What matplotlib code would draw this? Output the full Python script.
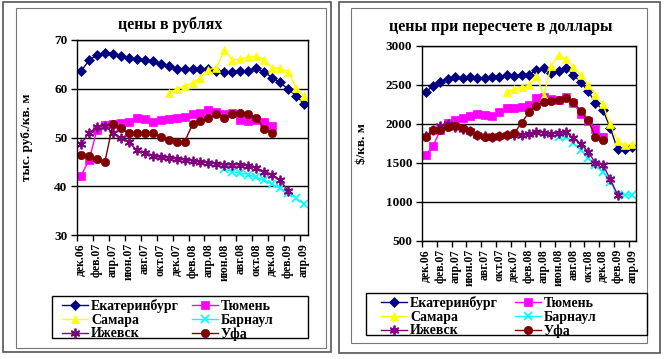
import numpy as np
import matplotlib
matplotlib.use('Agg')
import matplotlib.pyplot as plt
from matplotlib.patches import Rectangle

plt.rcParams['font.family'] = ['Liberation Serif', 'DejaVu Serif']
plt.rcParams['font.weight'] = 'bold'

N = None
# месяцы дек.06 - апр.09
months = ['дек.06', 'янв.07', 'фев.07', 'мар.07', 'апр.07', 'май.07', 'июн.07',
          'июл.07', 'авг.07', 'сен.07', 'окт.07', 'ноя.07', 'дек.07', 'янв.08',
          'фев.08', 'мар.08', 'апр.08', 'май.08', 'июн.08', 'июл.08', 'авг.08',
          'сен.08', 'окт.08', 'ноя.08', 'дек.08', 'янв.09', 'фев.09', 'мар.09',
          'апр.09']
cities = ['Екатеринбург', 'Тюмень', 'Самара', 'Барнаул', 'Ижевск', 'Уфа']

# цены в рублях, тыс. руб./кв. м
ekb_rub = [63.6, 65.8, 67.0, 67.4, 67.2, 66.7, 66.3, 66.1, 65.9, 65.6, 65.0, 64.7, 64.1, 64.1,
           64.1, 64.1, 64.0, 63.7, 63.5, 63.5, 63.7, 63.7, 64.2, 63.4, 62.3, 61.3, 59.9, 58.6, 56.9]
tmn_rub = [42.2, 45.3, 51.5, 52.5, 52.7, 53.0, 53.2, 53.9, 53.8, 53.1, 53.6, 53.8, 54.1, 54.3,
           54.8, 55.1, 55.6, 55.2, 54.9, 55.1, 53.6, 53.4, 53.6, 53.1, 52.4, N, N, N, N]
sam_rub = [N, N, N, N, N, N, N, N, N, N, N, 59.2, 59.9, 60.6,
           61.2, 62.3, 63.9, 64.3, 67.9, 65.9, 66.1, 66.5, 66.7, 66.0, 64.3, 64.2, 63.5, 60.2, 58.5]
brn_rub = [N, N, N, N, N, N, N, N, N, N, N, N, N, N,
           N, N, N, N, 43.5, 43.0, 42.7, 42.4, 41.8, 41.2, 40.4, 39.6, 38.7, 37.5, 36.4]
izh_rub = [48.7, 50.9, 52.2, 52.4, 50.9, 50.0, 49.0, 47.4, 46.9, 46.3, 45.9, 45.8, 45.6, 45.4,
           45.2, 45.0, 44.8, 44.6, 44.4, 44.4, 44.4, 44.2, 43.8, 43.0, 42.4, 41.2, 39.1, N, N]
ufa_rub = [46.4, 46.2, 45.5, 45.0, 52.7, 51.9, 50.9, 50.9, 50.9, 50.9, 50.2, 49.5, 49.1, 49.1,
           52.7, 53.3, 53.9, 54.8, 54.1, 54.8, 55.1, 54.9, 54.1, 51.8, 50.9, N, N, N, N]

# цены в долларах, $/кв. м
ekb_usd = [2410, 2480, 2540, 2575, 2600, 2585, 2605, 2590, 2585, 2600, 2605, 2620, 2615, 2620,
           2625, 2690, 2715, 2650, 2680, 2720, 2630, 2530, 2420, 2270, 2180, 1950, 1670, 1670, 1695]
tmn_usd = [1600, 1715, 1920, 2005, 2045, 2070, 2100, 2120, 2110, 2100, 2155, 2195, 2205, 2220,
           2240, 2325, 2340, 2315, 2305, 2340, 2270, 2125, 2040, 1935, 1835, N, N, N, N]
sam_usd = [N, N, N, N, N, N, N, N, N, N, N, 2410, 2440, 2470,
           2490, 2615, 2360, 2740, 2885, 2825, 2730, 2620, 2500, 2370, 2250, 1990, 1780, 1725, 1740]
brn_usd = [N, N, N, N, N, N, N, N, N, N, N, N, N, N,
           N, N, N, N, 1830, 1830, 1755, 1665, 1565, 1470, 1375, 1255, 1086, 1086, 1086]
izh_usd = [1845, 1915, 1975, 1990, 1960, 1930, 1910, 1860, 1840, 1830, 1840, 1850, 1855, 1850,
           1870, 1895, 1880, 1865, 1885, 1890, 1820, 1745, 1640, 1500, 1475, 1290, 1090, N, N]
ufa_usd = [1834, 1920, 1925, 1958, 1975, 1941, 1905, 1855, 1825, 1825, 1840, 1860, 1880, 2010,
           2150, 2230, 2280, 2290, 2300, 2335, 2280, 2165, 2045, 1835, 1790, N, N, N, N]

colors = ['#000080', '#FF00FF', '#FFFF00', '#00FFFF', '#800080', '#800000']
markers = ['D', 's', '^', 'x', (6, 2, 0), 'o']
msizes = [5, 6, 6, 6, 7, 6]

fig = plt.figure(figsize=(6.68, 3.59), dpi=100)
W, H = 668, 359


def frame(x0, y0, x1, y1, lw, col):
    # рамка в пикселях (от верхнего левого угла)
    fig.patches.append(Rectangle((x0 / W, 1 - y1 / H), (x1 - x0) / W, (y1 - y0) / H,
                                 transform=fig.transFigure, fill=False, lw=lw, ec=col))


frame(3, 2, 331, 352, 1.2, '#555555')
frame(16, 8, 326, 348, 0.8, '#777777')
frame(339, 2, 660, 353, 1.2, '#555555')
frame(351, 8, 647, 343, 0.8, '#777777')


def chart(rect, series, title, ylabel, ylim, yticks, leg_box, leg_xy, colsp, title_xy, ylab_x):
    ax = fig.add_axes(rect)
    x = np.arange(len(months))
    lines = []
    for vals, name, c, m, ms in zip(series, cities, colors, markers, msizes):
        y = np.array([np.nan if v is None else v for v in vals], dtype=float)
        ln, = ax.plot(x, y, color=c, marker=m, markersize=ms, lw=1.0,
                      markeredgewidth=1.3 if m in ('x', (6, 2, 0)) else 0.5,
                      markeredgecolor=c, label=name)
        lines.append(ln)
    ax.set_xlim(-0.5, len(months) - 0.5)
    ax.set_ylim(*ylim)
    ax.set_yticks(yticks)
    ax.set_yticklabels([str(t) for t in yticks], fontsize=9.5, fontweight='bold')
    ax.set_xticks(x[::2])
    ax.set_xticklabels(months[::2], rotation=90, fontsize=8.5, fontweight='bold')
    ax.tick_params(axis='x', length=0, pad=6)
    ax.set_xticks(np.arange(-0.5, len(months), 2), minor=True)
    ax.tick_params(axis='x', which='minor', length=4, width=1, color='black')
    ax.tick_params(axis='y', length=4, width=1, pad=3)
    ax.grid(axis='y', color='black', lw=1)
    ax.set_axisbelow(True)
    for s in ax.spines.values():
        s.set_color('black')
        s.set_linewidth(1)
    fig.text(title_xy[0], title_xy[1], title, ha='center', va='center',
             fontsize=11.5, fontweight='bold')
    fig.text(ylab_x, rect[1] + rect[3] / 2, ylabel, rotation=90, ha='center', va='center',
             fontsize=9.5, fontweight='bold')
    # легенда: рамка отдельно, записи в две колонки
    frame(*leg_box, 1.0, 'black')
    order = [0, 2, 4, 1, 3, 5]
    fig.legend([lines[i] for i in order], [cities[i] for i in order], ncol=2,
               loc='upper left', bbox_to_anchor=(leg_xy[0] / W, 1 - leg_xy[1] / H),
               frameon=False, prop={'weight': 'bold', 'size': 10}, handlelength=1.9,
               borderaxespad=0, borderpad=0, labelspacing=0.05,
               columnspacing=colsp, handletextpad=0.2)
    return ax


chart([77 / W, 1 - 235 / H, 231 / W, 195 / H],
      [ekb_rub, tmn_rub, sam_rub, brn_rub, izh_rub, ufa_rub],
      'цены в рублях', 'тыс. руб./кв. м', (30, 70), [30, 40, 50, 60, 70],
      (52, 296, 308, 338), (62, 299), 0.9, (170 / W, 1 - 25 / H), 27 / W)

chart([422 / W, 1 - 240.7 / H, 214 / W, 195 / H],
      [ekb_usd, tmn_usd, sam_usd, brn_usd, izh_usd, ufa_usd],
      'цены при пересчете в доллары', r'\$/кв. м', (500, 3000),
      [500, 1000, 1500, 2000, 2500, 3000],
      (366, 293, 647, 335), (381, 296), 1.2, (501 / W, 1 - 27 / H), 362 / W)

fig.savefig('out.png', dpi=100)
